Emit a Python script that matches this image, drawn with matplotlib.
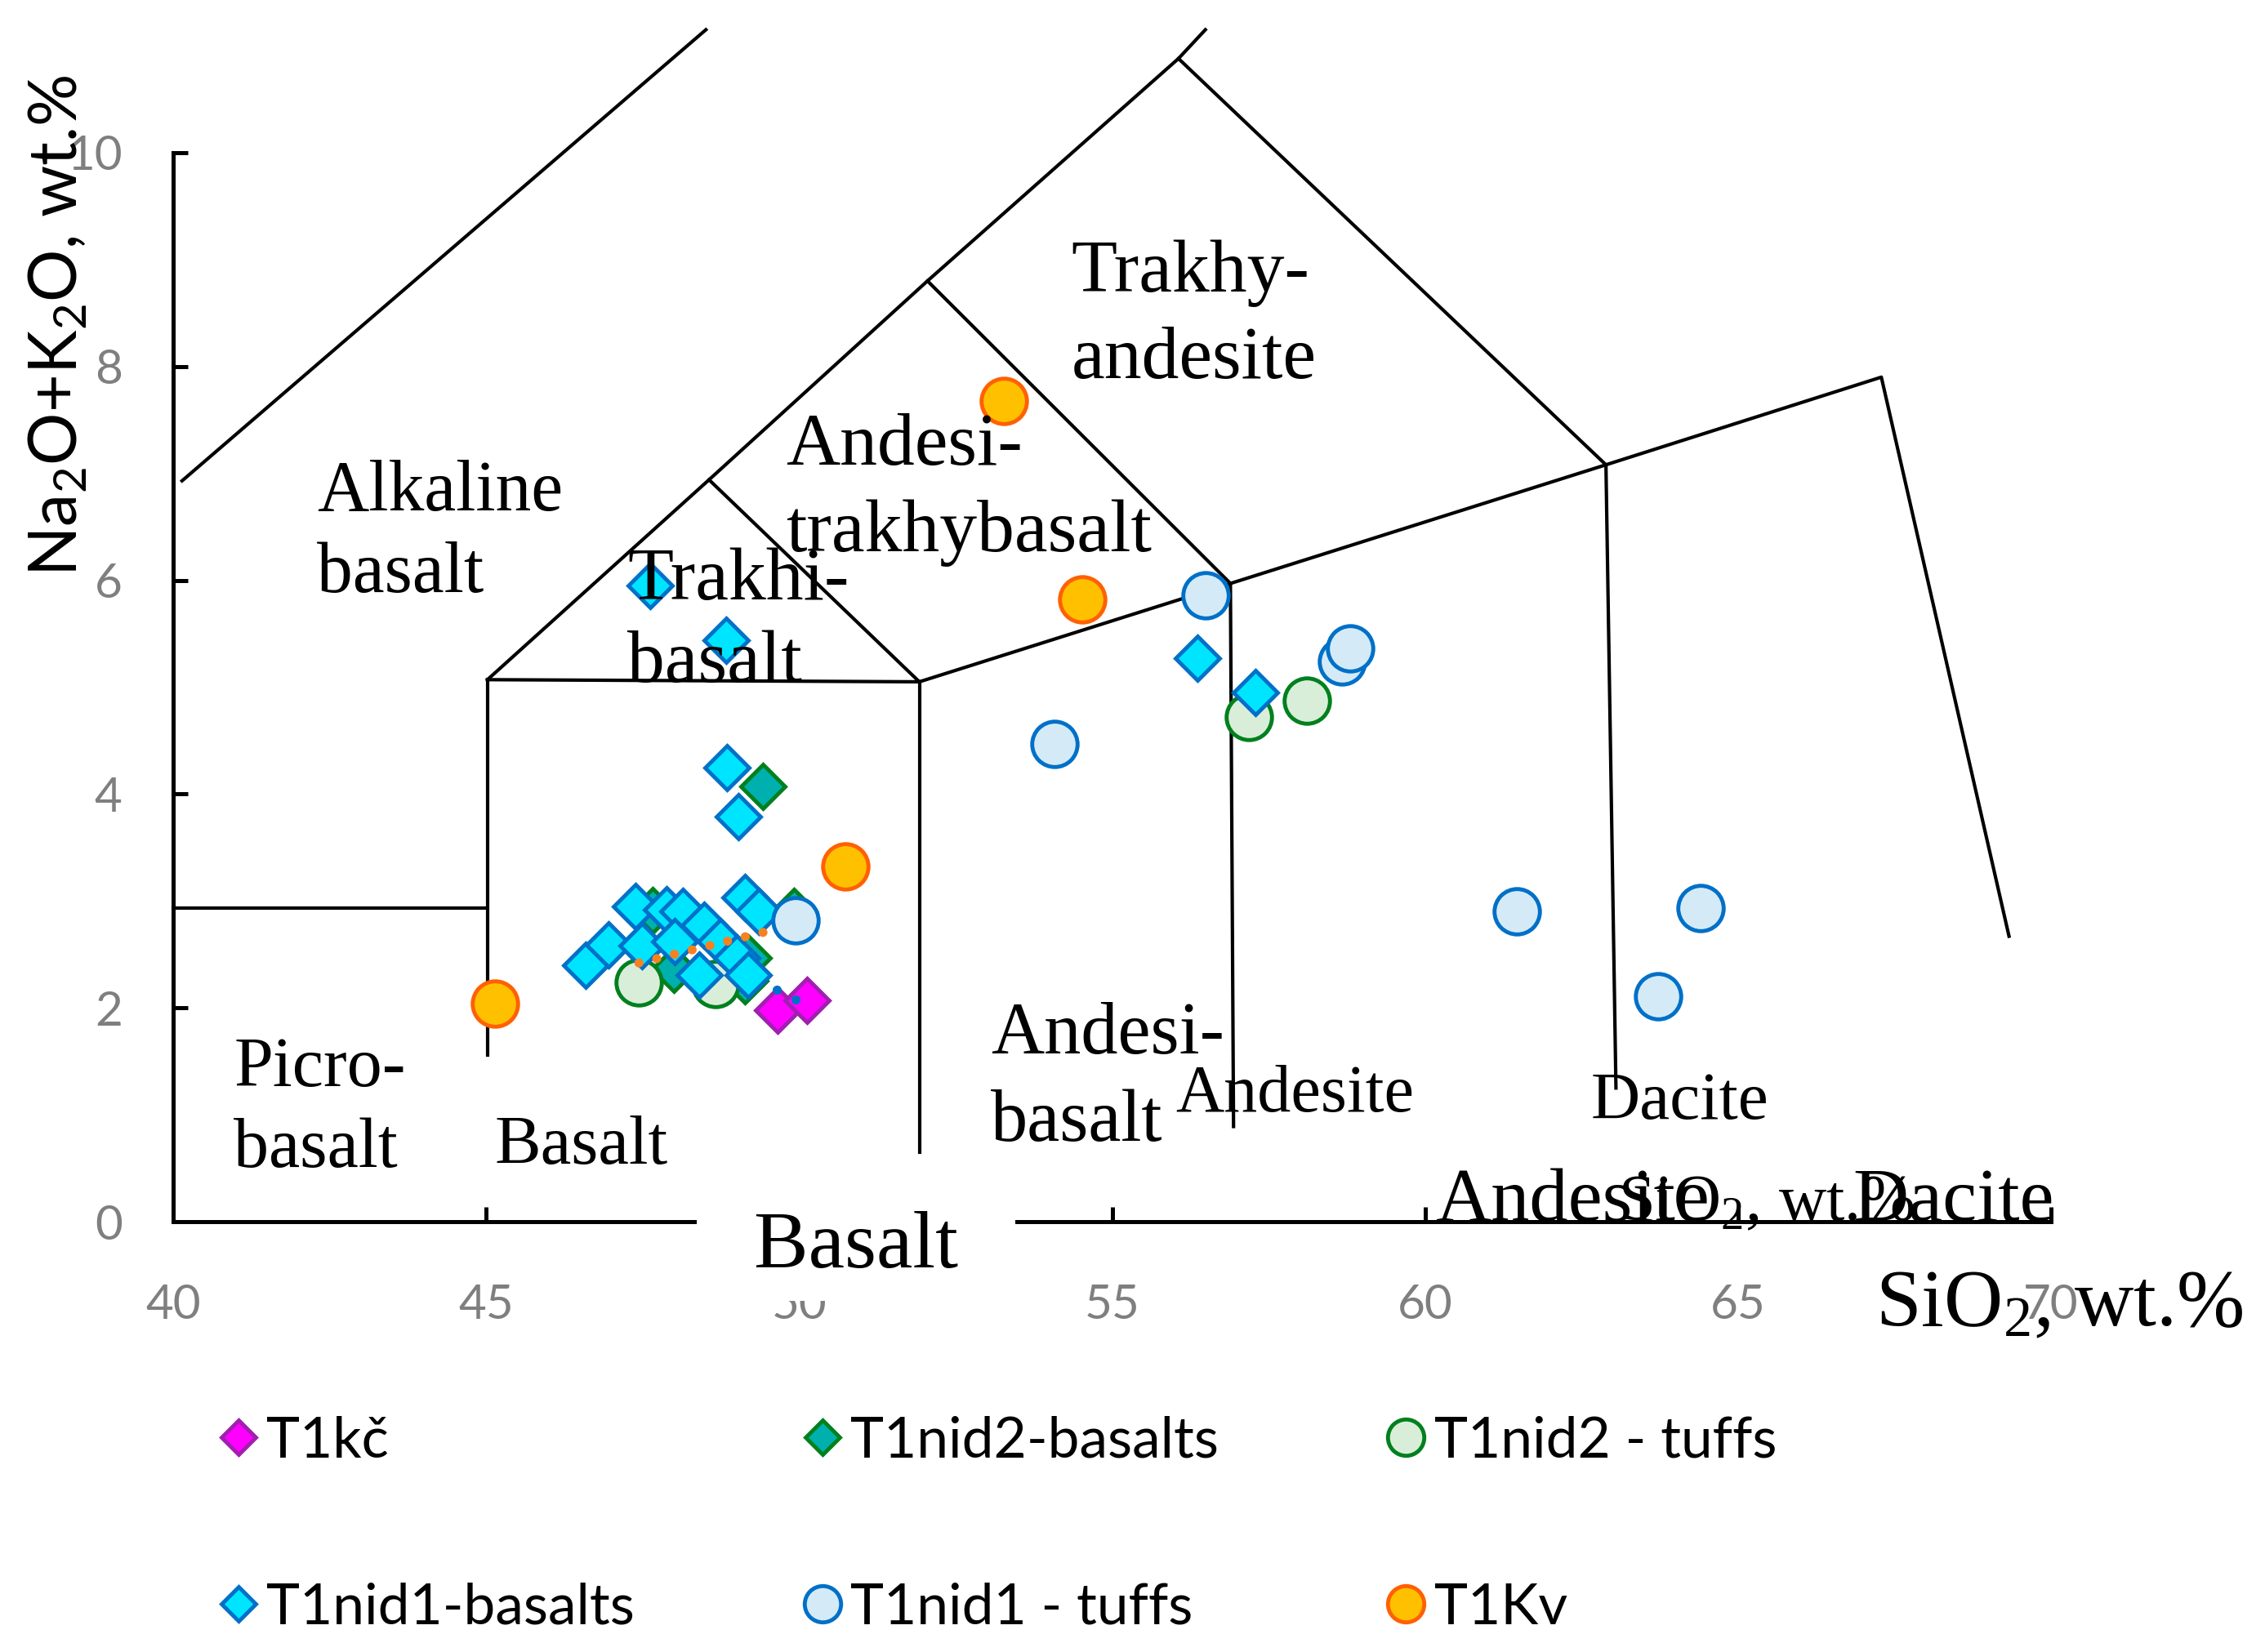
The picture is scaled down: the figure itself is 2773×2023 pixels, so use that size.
import matplotlib.pyplot as plt

# SiO2 (x) and Na2O+K2O (y), wt.%
t1kc_x = [49.66, 50.13]
t1kc_y = [1.98, 2.07]

nid2_bas_x = [49.42, 47.66, 49.91, 49.18, 49.13, 48.00]
nid2_bas_y = [4.07, 2.91, 2.90, 2.47, 2.25, 2.36]

nid2_tuf_x = [47.44, 48.66, 57.19, 58.11]
nid2_tuf_y = [2.24, 2.22, 4.72, 4.87]

nid1_bas_x = [47.62, 48.83, 48.85, 49.03, 56.36, 57.29,
              46.59, 46.96, 47.38, 47.49, 47.88, 48.14, 48.01, 48.48, 48.74,
              49.13, 49.35, 48.40, 49.00, 49.18]
nid1_bas_y = [5.95, 5.44, 4.25, 3.79, 5.27, 4.95,
              2.40, 2.59, 2.95, 2.58, 2.92, 2.90, 2.62, 2.77, 2.62,
              3.03, 2.90, 2.31, 2.47, 2.31]

nid1_tuf_x = [49.94, 54.08, 56.49, 58.67, 58.80, 61.46, 63.73, 64.40]
nid1_tuf_y = [2.82, 4.47, 5.86, 5.24, 5.36, 2.90, 2.11, 2.93]

t1kv_x = [45.14, 50.74, 53.27, 54.52]
t1kv_y = [2.04, 3.32, 7.68, 5.82]

# dotted trend through the basalt cluster
trend_x = [47.44, 49.66]
trend_y = [2.42, 2.74]

# two tiny blue dots near the T1kc points
stray_x = [49.64, 49.94]
stray_y = [2.17, 2.08]

# TAS field boundaries (polylines)
tas_lines = [
    ([40.14, 48.51], [6.93, 11.15]),
    ([40.0, 45.0], [2.93, 2.93]),
    ([45.02, 45.02], [5.07, 1.56]),
    ([45.02, 48.56, 52.05, 56.06, 56.49], [5.07, 6.94, 8.80, 10.88, 11.15]),
    ([45.02, 51.92], [5.07, 5.05]),
    ([48.56, 51.92], [6.94, 5.05]),
    ([52.05, 56.89], [8.80, 5.97]),
    ([56.06, 62.89], [10.88, 7.08]),
    ([51.92, 56.89, 62.89, 67.29, 69.33], [5.05, 5.97, 7.08, 7.90, 2.67]),
    ([51.92, 51.92], [5.05, 0.65]),
    ([56.89, 56.94], [5.97, 0.89]),
    ([62.89, 63.05], [7.08, 1.25]),
]

# field names: (text, x, baseline y, font size)
field_labels = [
    ("Alkaline", 42.30, 6.65, 63), ("basalt", 42.30, 5.89, 63),
    ("Trakhi-", 47.26, 5.82, 66), ("basalt", 47.26, 5.05, 66),
    ("Andesi-", 49.79, 7.08, 66), ("trakhybasalt", 49.79, 6.27, 66),
    ("Trakhy-", 54.35, 8.70, 66), ("andesite", 54.35, 7.89, 66),
    ("Picro-", 40.97, 1.27, 62), ("basalt", 40.97, 0.51, 62),
    ("Basalt", 45.14, 0.54, 61),
    ("Andesi-", 53.06, 1.57, 65), ("basalt", 53.06, 0.76, 65),
    ("Andesite", 56.01, 1.03, 59),
    ("Dacite", 62.65, 0.96, 60),
]

plt.rcParams['font.family'] = ['Lato', 'DejaVu Sans']
serif = ['Liberation Serif', 'DejaVu Serif']

fig = plt.figure(figsize=(27.73, 20.23), dpi=100)
ax = fig.add_axes([0.0765, 0.2605, 0.829, 0.6471])

for xs, ys in tas_lines:
    ax.plot(xs, ys, color='black', lw=3.0, clip_on=False, zorder=1)

ms_d, ms_o, mew = 27, 40, 3.5
ax.plot(t1kc_x, t1kc_y, ls='none', marker='D', ms=ms_d, mfc='#FF00FF', mec='#A020B0', mew=mew, label='T1kč', zorder=4)
ax.plot(nid2_bas_x, nid2_bas_y, ls='none', marker='D', ms=ms_d, mfc='#00B0AE', mec='#00801E', mew=mew, label='T1nid2-basalts', zorder=4)
ax.plot(nid2_tuf_x, nid2_tuf_y, ls='none', marker='o', ms=ms_o, mfc='#D9EED9', mec='#00801E', mew=mew, label='T1nid2 - tuffs', zorder=4)
ax.plot(nid1_bas_x, nid1_bas_y, ls='none', marker='D', ms=ms_d, mfc='#00E5FF', mec='#0070C8', mew=mew, label='T1nid1-basalts', zorder=4)
ax.plot(nid1_tuf_x, nid1_tuf_y, ls='none', marker='o', ms=ms_o, mfc='#D4EBF7', mec='#0070C8', mew=mew, label='T1nid1 - tuffs', zorder=4)
ax.plot(t1kv_x, t1kv_y, ls='none', marker='o', ms=ms_o, mfc='#FFC000', mec='#FF6000', mew=mew, label='T1Kv', zorder=4)
ax.plot(trend_x, trend_y, color='#F58220', lw=8, ls=(0, (0.01, 2.0)), dash_capstyle='round', zorder=5)
ax.plot(stray_x, stray_y, ls='none', marker='o', ms=7, color='#0070C8', zorder=5)

ax.set_xlim(40, 70)
ax.set_ylim(0, 10)
ax.set_xticks(range(40, 71, 5))
ax.set_yticks(range(0, 11, 2))
for s in ['top', 'right']:
    ax.spines[s].set_visible(False)
for s in ['left', 'bottom']:
    ax.spines[s].set_linewidth(3.6)
ax.tick_params(direction='in', length=13, width=3.6, labelcolor='#7F7F7F', labelsize=42)
ax.tick_params(axis='x', pad=55)
ax.tick_params(axis='y', pad=45)

for txt, x, y, fs in field_labels:
    ax.text(x, y, txt, family=serif, fontsize=fs, va='baseline', ha='left', zorder=6)

# labels sitting on the x axis
ax.text(48.62, -0.43, '  Basalt  ', family=serif, fontsize=72, va='baseline', ha='left', zorder=10,
        clip_on=False, bbox=dict(boxstyle='square,pad=0.2', facecolor='white', edgecolor='none'))
ax.text(60.16, 0.01, 'Andesite', family=serif, fontsize=68, va='baseline', ha='left', zorder=10, clip_on=False)
ax.text(63.09, 0.01, 'SiO$\\mathregular{_2}$, wt.%', family=serif, fontsize=58, va='baseline', ha='left', zorder=10, clip_on=False)
ax.text(66.84, 0.01, 'Dacite', family=serif, fontsize=68, va='baseline', ha='left', zorder=10, clip_on=False)
ax.text(67.19, -0.97, 'SiO$\\mathregular{_2}$, wt.%', family=serif, fontsize=72, va='baseline', ha='left', zorder=10, clip_on=False)

fig.text(0.0256, 0.803, 'Na$\\mathregular{_2}$O+K$\\mathregular{_2}$O, wt.%', rotation=90,
         fontsize=58, ha='center', va='center')

handles, labels = ax.get_legend_handles_labels()
order = [0, 3, 1, 4, 2, 5]
fig.legend([handles[i] for i in order], [labels[i] for i in order], ncol=3, loc='upper left',
           bbox_to_anchor=(0.0977, 0.143), frameon=False, fontsize=50, markerscale=0.8,
           handlelength=0.6, handletextpad=0.2, columnspacing=3.0, labelspacing=2.03,
           borderpad=0, borderaxespad=0)

fig.savefig('out.png', dpi=100)
